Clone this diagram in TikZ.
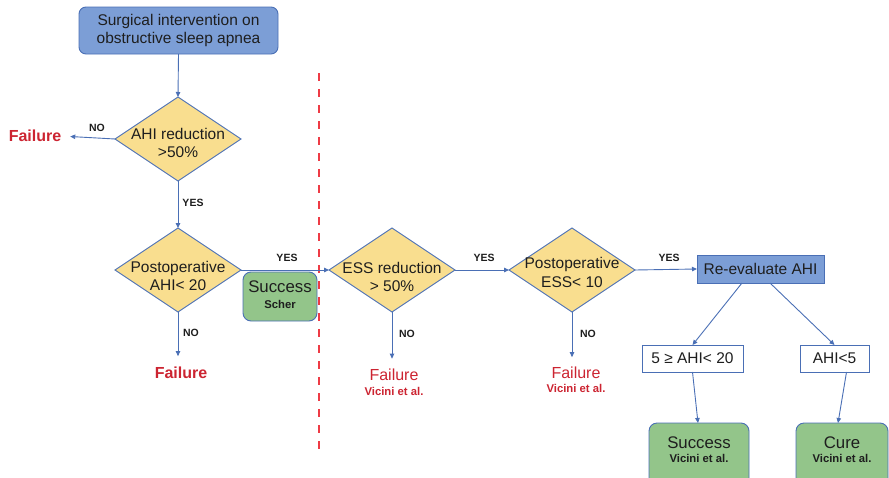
\documentclass[tikz,border=0pt]{standalone}
\usepackage{fontspec}
\setmainfont{Liberation Sans}
\usetikzlibrary{shapes.geometric,arrows.meta}

\definecolor{boxblue}{HTML}{7C9ED6}
\definecolor{edgeblue}{HTML}{4A6FB5}
\definecolor{decyellow}{HTML}{F9DE8F}
\definecolor{okgreen}{HTML}{93C58A}
\definecolor{failred}{HTML}{CC2431}
\definecolor{splitred}{HTML}{EE3B45}
\definecolor{ink}{HTML}{1E1E1E}

\begin{document}
\begin{tikzpicture}[x=1pt,y=-1pt,
  every node/.style={text=ink, inner sep=0pt, outer sep=0pt},
  mainfont/.style={font=\fontsize{15.5}{18.5}\selectfont},
  startbox/.style={draw=edgeblue, line width=0.9pt, fill=boxblue, rounded corners=7pt,
    minimum width=199pt, minimum height=47pt, mainfont, align=center},
  decision/.style={shape=diamond, draw=edgeblue, line width=0.9pt, fill=decyellow,
    minimum width=126pt, minimum height=84pt},
  dtext/.style={mainfont, align=center},
  evalbox/.style={draw=edgeblue, line width=0.9pt, fill=boxblue, mainfont},
  rangebox/.style={draw=edgeblue, line width=0.9pt, fill=white, mainfont},
  okbox/.style={draw=edgeblue, line width=0.9pt, fill=okgreen, rounded corners=8pt},
  outtext/.style={align=center},
  failbold/.style={text=failred, font=\fontsize{16}{18}\selectfont\bfseries},
  failcite/.style={text=failred, align=center},
  tag/.style={font=\fontsize{10.5}{12}\selectfont\bfseries},
  arr/.style={draw=edgeblue, line width=0.9pt, -{Triangle[length=5pt,width=4.5pt]}},
  divider/.style={draw=splitred, line width=2pt, dash pattern=on 8pt off 8pt}
]
\clip (0,0) rectangle (889,477);
\useasboundingbox (0,0) rectangle (889,477);

% left branch: AHI criteria
\node[startbox] (start) at (178.5,30.5) {Surgical intervention on\\obstructive sleep apnea};
\node[decision] (d1) at (178,139) {};
\node[dtext] at (178,143) {AHI reduction\\>50\%};
\node[failbold] (f1) at (35,136) {Failure};
\node[decision] (d2) at (178,270) {};
\node[dtext] at (178,276) {Postoperative\\AHI< 20};
\node[failbold] (f2) at (181,373) {Failure};
\node[okbox, minimum width=74pt, minimum height=49pt] (scher) at (280,296.5) {};
\node[outtext] at (280,295) {{\fontsize{16.8}{19}\selectfont Success}\\[4pt]{\fontsize{11.3}{13}\selectfont\bfseries Scher}};

% separator between the two definitions
\coordinate (divtop) at (319,73);
\coordinate (divbot) at (319,453);
\draw[divider] (divtop) -- (divbot);

% right branch: ESS criteria
\node[decision] (d3) at (392,270) {};
\node[dtext] at (392,277) {ESS reduction\\> 50\%};
\node[failcite] (f3) at (394,382) {{\fontsize{16}{18}\selectfont Failure}\\[3pt]{\fontsize{11.3}{13}\selectfont\bfseries Vicini et al.}};
\node[decision] (d4) at (572,270) {};
\node[dtext] at (572,272.5) {Postoperative\\ESS< 10};
\node[failcite] (f4) at (576,380) {{\fontsize{16}{18}\selectfont Failure}\\[2pt]{\fontsize{11.3}{13}\selectfont\bfseries Vicini et al.}};

\node[evalbox, minimum width=127pt, minimum height=28pt] (reeval) at (760.5,269) {Re-evaluate AHI};
\node[rangebox, minimum width=101pt, minimum height=27pt] (mid) at (692.5,358.5) {5 ≥ AHI< 20};
\node[rangebox, minimum width=69pt, minimum height=27pt] (low) at (834.5,358.5) {AHI<5};
\node[okbox, anchor=north, minimum width=100pt, minimum height=64pt] (succ) at (699,423) {};
\node[outtext] at ([yshift=-27pt]succ.north) {{\fontsize{16.8}{19}\selectfont Success}\\[2pt]{\fontsize{11.3}{13}\selectfont\bfseries Vicini et al.}};
\node[okbox, anchor=north, minimum width=92pt, minimum height=64pt] (cure) at (842,423) {};
\node[outtext] at ([yshift=-27pt]cure.north) {{\fontsize{16.8}{19}\selectfont Cure}\\[2pt]{\fontsize{11.3}{13}\selectfont\bfseries Vicini et al.}};

% connectors
\draw[arr] (start.south) -- (d1.north);
\draw[arr, shorten >=9pt] (d1.west) -- (f1.east);
\node[tag] at (97,128) {NO};
\draw[arr] (d1.south) -- (d2.north);
\node[tag] at (193,203) {YES};
\draw[arr, shorten >=11pt] (d2.south) -- (f2.north -| d2.south);
\node[tag] at (191,333) {NO};
\draw[arr] (d2.east) -- (d3.west);
\node[tag] at (287,258) {YES};

\draw[arr, shorten >=10pt] (d3.south) -- (f3.north -| d3.south);
\node[tag] at (407,334) {NO};
\draw[arr] (d3.east) -- (d4.west);
\node[tag] at (484,258) {YES};
\draw[arr, shorten >=10pt] (d4.south) -- (f4.north -| d4.south);
\node[tag] at (588,334) {NO};
\draw[arr] (d4.east) -- (reeval.west);
\node[tag] at (669,258) {YES};

\draw[arr] ([xshift=-18.5pt]reeval.south) -- (mid.north);
\draw[arr] ([xshift=9.5pt]reeval.south) -- (low.north);
\draw[arr] (mid.south) -- ([xshift=-1pt]succ.north);
\draw[arr] ([xshift=12pt]low.south) -- ([xshift=-4pt]cure.north);
\end{tikzpicture}
\end{document}
